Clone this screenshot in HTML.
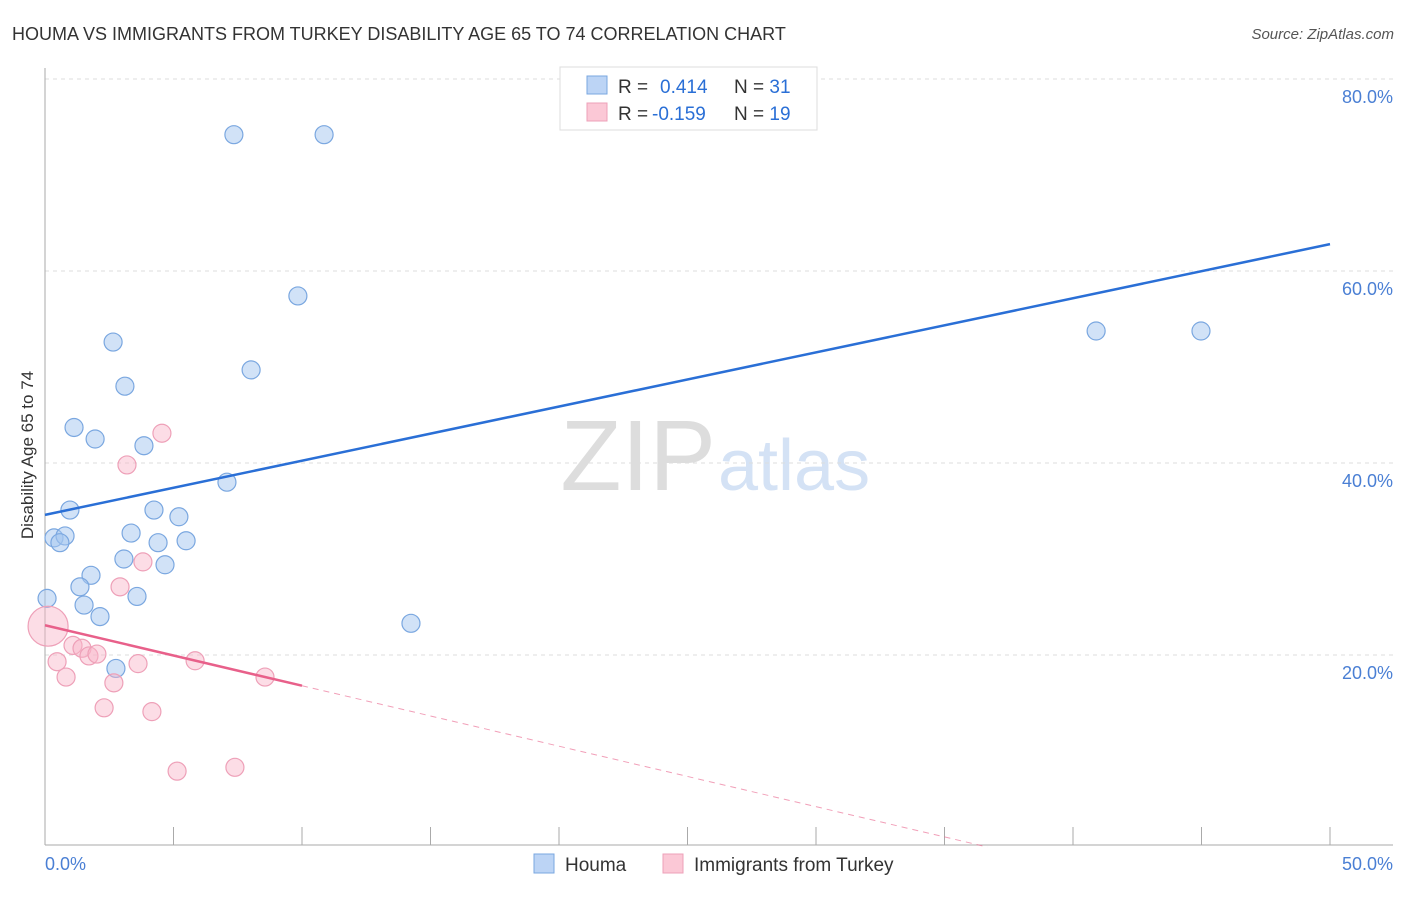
<!DOCTYPE html>
<html><head><meta charset="utf-8"><style>
body{margin:0;background:#fff;font-family:"Liberation Sans",sans-serif}
svg text{font-family:"Liberation Sans",sans-serif}
</style></head><body>
<svg width="1406" height="892" viewBox="0 0 1406 892" xmlns="http://www.w3.org/2000/svg">
<text x="12" y="40" font-size="18" fill="#333">HOUMA VS IMMIGRANTS FROM TURKEY DISABILITY AGE 65 TO 74 CORRELATION CHART</text>
<text x="1394" y="39" font-size="15" fill="#555" font-style="italic" text-anchor="end">Source: ZipAtlas.com</text>
<text x="716" y="490" font-size="100" fill="#ddd" font-family="Liberation Serif" text-anchor="end">ZIP</text>
<text x="718" y="490" font-size="72" fill="#d4e2f5">atlas</text>
<g id="grid"></g><g id="axes"></g><g id="marks"></g>
<text transform="translate(33,455) rotate(-90)" font-size="17" fill="#333" text-anchor="middle">Disability Age 65 to 74</text>
<text x="45" y="870" font-size="18" fill="#4a7fd4">0.0%</text>
<text x="1393" y="870" font-size="18" fill="#4a7fd4" text-anchor="end">50.0%</text>
<g>
<rect x="560" y="67" width="257" height="63" fill="#fff" stroke="#ddd"/>
<rect x="587" y="76" width="20" height="18" fill="#bcd4f5" stroke="#7aa7e0"/>
<rect x="587" y="103" width="20" height="18" fill="#fbc8d6" stroke="#eea0b8"/>
<text x="618" y="93" font-size="19" fill="#333">R = <tspan fill="#2a6fd6" x="660">0.414</tspan><tspan fill="#333" x="734">N = </tspan><tspan fill="#2a6fd6">31</tspan></text>
<text x="618" y="120" font-size="19" fill="#333">R = <tspan fill="#2a6fd6" x="652">-0.159</tspan><tspan fill="#333" x="734">N = </tspan><tspan fill="#2a6fd6">19</tspan></text>
</g>
<g>
<rect x="534" y="854" width="20" height="19" fill="#bcd4f5" stroke="#7aa7e0"/>
<text x="565" y="871" font-size="19" fill="#333">Houma</text>
<rect x="663" y="854" width="20" height="19" fill="#fbc8d6" stroke="#eea0b8"/>
<text x="694" y="871" font-size="19" fill="#333">Immigrants from Turkey</text>
</g>
</svg>
<script>
const yTicks=[20,40,60,80];
const yTickLabels=["20.0%","40.0%","60.0%","80.0%"];
const xTicks=[0,5,10,15,20,25,30,35,40,45,50];
const houmaX=[7.35,10.86,9.84,2.65,8.02,3.11,1.13,1.95,3.85,7.08,0.97,4.24,5.21,0.35,0.78,0.58,3.35,4.40,5.49,3.07,4.67,1.79,1.36,3.58,0.08,1.52,2.14,14.24,2.76,40.9,44.98];
const houmaY=[74.2,74.2,57.4,52.6,49.7,48.0,43.7,42.5,41.8,38.0,35.1,35.1,34.4,32.2,32.4,31.7,32.7,31.7,31.9,30.0,29.4,28.3,27.1,26.1,25.9,25.2,24.0,23.3,18.6,53.75,53.75];
const turkeyX=[0.12,4.55,3.19,3.81,2.92,1.09,1.44,1.71,2.02,0.47,3.62,5.84,0.82,2.68,8.56,2.30,4.16,5.14,7.39];
const turkeyY=[23.0,43.1,39.8,29.7,27.1,21.0,20.7,19.9,20.1,19.3,19.1,19.4,17.7,17.1,17.7,14.5,14.1,7.9,8.3];
const turkeyR=[20,9,9,9,9,9,9,9,9,9,9,9,9,9,9,9,9,9,9];
const houmaTrend=[34.6,62.8];
const turkeyTrend=[23.1,-0.63];
const NS="http://www.w3.org/2000/svg";
const X=v=>45+v*25.7, Y=v=>847-v*9.6;
function mk(t,a,p){const e=document.createElementNS(NS,t);for(const k in a)e.setAttribute(k,a[k]);document.getElementById(p).appendChild(e);return e;}
yTicks.forEach((t,i)=>{
 const l=mk('line',{x1:45,x2:1393,y1:Y(t),y2:Y(t),stroke:'#ddd','stroke-dasharray':'4,4'},'grid');
 
 
 const tx=mk('text',{x:1393,y:Y(t)+24,'font-size':18,fill:'#4a7fd4','text-anchor':'end'},'grid');
 tx.textContent=yTickLabels[i];
 
 
});
const ya=mk('line',{x1:45,x2:45,y1:68,y2:845,stroke:'#aaa'},'axes');


const xa=mk('line',{x1:45,x2:1393,y1:845,y2:845,stroke:'#aaa'},'axes');


xTicks.forEach(t=>{const e=mk('line',{x1:X(t),x2:X(t),y1:827,y2:845,stroke:'#aaa'},'axes');
 
 });
houmaX.forEach((v,i)=>{const c=mk('circle',{cx:X(v),cy:Y(houmaY[i]),r:9,fill:'rgba(164,198,240,0.5)',stroke:'#7aa7e0','stroke-width':1.2},'marks');
 
 });
turkeyX.forEach((v,i)=>{const c=mk('circle',{cx:X(v),cy:Y(turkeyY[i]),r:turkeyR[i],fill:'rgba(248,180,200,0.45)',stroke:'#eea0b8','stroke-width':1.2},'marks');
 
 });
const bl=mk('line',{x1:X(0),y1:Y(houmaTrend[0]),x2:X(50),y2:Y(houmaTrend[1]),stroke:'#2a6fd6','stroke-width':2.5},'marks');


const pT=x=>turkeyTrend[0]+turkeyTrend[1]*x, xEnd=-turkeyTrend[0]/turkeyTrend[1];
const pl=mk('line',{x1:X(0),y1:Y(pT(0)),x2:X(10),y2:Y(pT(10)),stroke:'#e8608a','stroke-width':2.5},'marks');


const pd=mk('line',{x1:X(10),y1:Y(pT(10)),x2:X(xEnd),y2:Y(0),stroke:'#e8608a','stroke-width':1,'stroke-dasharray':'6,5',opacity:0.6},'marks');


</script>
</body></html>
